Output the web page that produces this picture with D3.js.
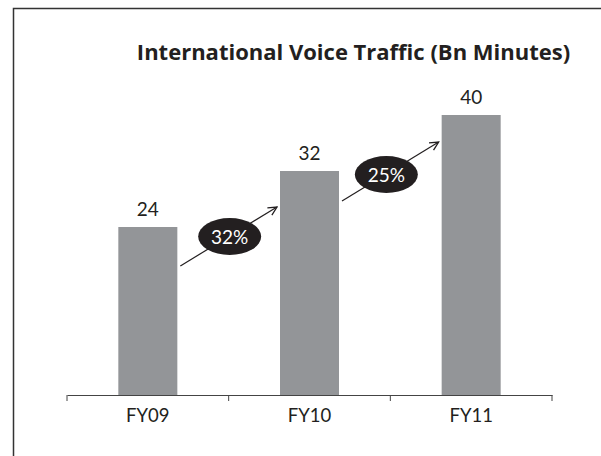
<!DOCTYPE html>
<html lang="en">
<head>
    <meta charset="UTF-8" />
    <title>International Voice Traffic</title>
    <script src="https://d3js.org/d3.v7.min.js"></script>
    <style>
        body { margin: 0; background: #fff; }
        svg { display: block; font-family: Lato, "Noto Sans", sans-serif; }
    </style>
</head>
<body>
    <div id="chart"></div>
    <script>
        const years = ["FY09", "FY10", "FY11"]
        const traffic = [24, 32, 40]
        const growth = ["32%", "25%"]

        const width = 601
        const height = 456
        const margin = ({ top: 115, right: 49, bottom: 61, left: 67 })
        const ink = "#231f20"
        const font = "Lato, 'Noto Sans', sans-serif"

        const x = d3.scaleBand()
            .domain(years)
            .range([margin.left, width - margin.right])
            .padding(0)

        const barW = x.bandwidth() * 0.365

        const y = d3.scaleLinear()
            .domain([0, d3.max(traffic)])
            .range([height - margin.bottom, margin.top])

        const svg = d3.select("#chart").append("svg")
            .attr("width", width)
            .attr("height", height)
            .attr("viewBox", [0, 0, width, height])

        // frame (only left and top edges show)
        svg.append("path")
            .attr("d", `M13.5,${height} V8.5 H${width}`)
            .attr("fill", "none")
            .attr("stroke", "#333")
            .attr("stroke-width", 1.5)

        svg.append("text")
            .attr("x", 353.5)
            .attr("y", 60)
            .attr("text-anchor", "middle")
            .attr("font-family", "'Open Sans', sans-serif")
            .attr("font-size", 22)
            .attr("font-weight", "bold")
            .attr("fill", ink)
            .text("International Voice Traffic (Bn Minutes)")

        svg.append("g")
            .selectAll("rect")
            .data(traffic)
            .join("rect")
            .attr("x", (d, i) => x(years[i]) + (x.bandwidth() - barW) / 2)
            .attr("y", d => y(d))
            .attr("width", barW)
            .attr("height", d => y(0) - y(d))
            .attr("fill", "#939598")

        svg.append("g")
            .attr("font-size", 19)
            .attr("fill", ink)
            .attr("text-anchor", "middle")
            .selectAll("text")
            .data(traffic)
            .join("text")
            .attr("x", (d, i) => x(years[i]) + x.bandwidth() / 2)
            .attr("y", d => y(d) - 11)
            .text(d => d)

        const xAxis = g => g
            .attr("transform", `translate(0,${height - margin.bottom})`)
            .call(d3.axisBottom(x).tickSize(0).tickPadding(14))
            .call(g => g.select(".domain").attr("stroke", "#444"))
            .call(g => g.selectAll(".tick text")
                .attr("font-size", 18.5)
                .attr("fill", ink)
                .attr("font-family", font))
            .call(g => g.selectAll(".sep")
                .data([...years.map(c => x(c)), x.range()[1]])
                .join("line")
                .attr("class", "sep")
                .attr("x1", d => d)
                .attr("x2", d => d)
                .attr("y1", 0)
                .attr("y2", 6)
                .attr("stroke", "#444"))

        svg.append("g").call(xAxis)

        // growth arrows between bars
        svg.append("defs").append("marker")
            .attr("id", "head")
            .attr("viewBox", "0 0 10 10")
            .attr("refX", 9)
            .attr("refY", 5)
            .attr("markerWidth", 9)
            .attr("markerHeight", 9)
            .attr("orient", "auto")
            .append("path")
            .attr("d", "M1,1 L9,5 L1,9")
            .attr("fill", "none")
            .attr("stroke", ink)
            .attr("stroke-width", 1.2)

        const arrows = growth.map((g, i) => {
            const x1 = x(years[i]) + (x.bandwidth() + barW) / 2 + 3
            const x2 = x(years[i + 1]) + (x.bandwidth() - barW) / 2 - 3
            const y1 = y(traffic[i]) + (i === 0 ? 39 : 30)
            const y2 = y(traffic[i + 1]) + (i === 0 ? 36 : 27)
            const cx = (x1 + x2) / 2 + (i === 0 ? 1 : -4)
            const cy = (y1 + y2) / 2 + (i === 0 ? 0 : 3)
            return { label: g, x1, x2, y1, y2, cx, cy }
        })

        const ag = svg.append("g").selectAll("g").data(arrows).join("g")

        ag.append("line")
            .attr("x1", d => d.x1)
            .attr("y1", d => d.y1)
            .attr("x2", d => d.x2)
            .attr("y2", d => d.y2)
            .attr("stroke", ink)
            .attr("stroke-width", 1.2)
            .attr("marker-end", "url(#head)")

        ag.append("ellipse")
            .attr("cx", d => d.cx)
            .attr("cy", d => d.cy)
            .attr("rx", 31.5)
            .attr("ry", 18.5)
            .attr("fill", ink)

        ag.append("text")
            .attr("x", d => d.cx)
            .attr("y", d => d.cy + 7)
            .attr("text-anchor", "middle")
            .attr("font-size", 19)
            .attr("fill", "#fff")
            .text(d => d.label)
    </script>
</body>
</html>
